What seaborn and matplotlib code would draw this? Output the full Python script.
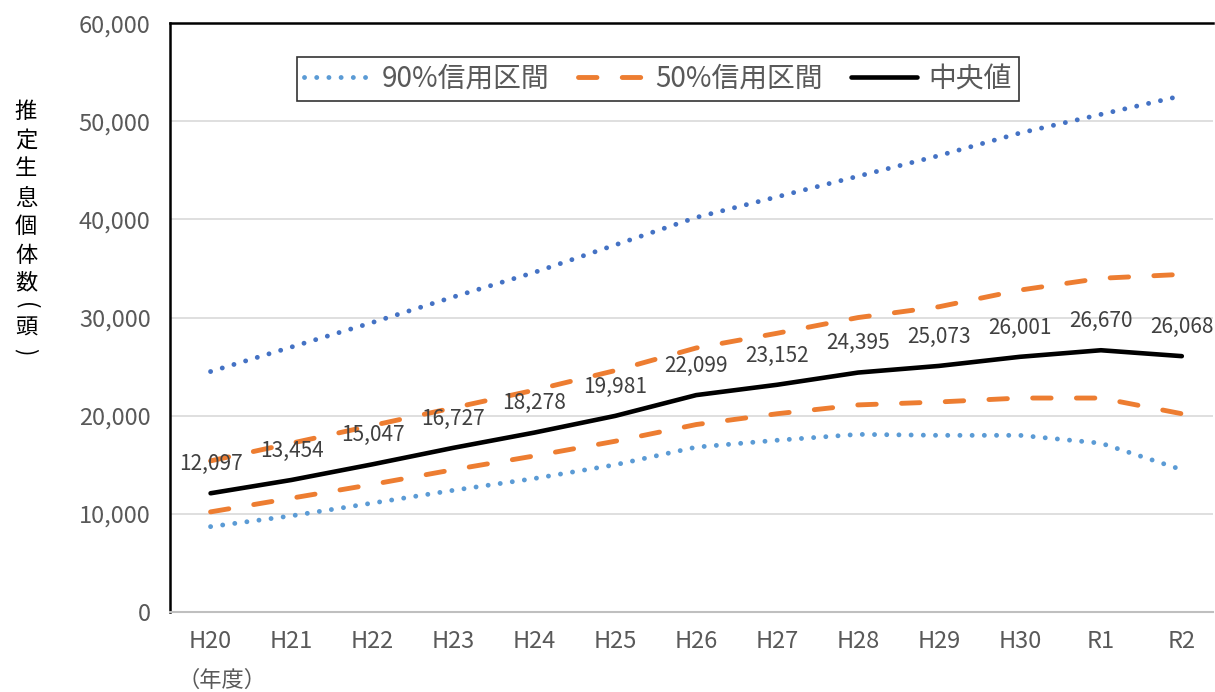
import numpy as np
import pandas as pd
import matplotlib
matplotlib.use("Agg")
import matplotlib.pyplot as plt
from matplotlib.lines import Line2D
import seaborn as sns

# ---------------- データ ---------------- #

years = ["H20", "H21", "H22", "H23", "H24", "H25", "H26",
         "H27", "H28", "H29", "H30", "R1", "R2"]

median = [12097, 13454, 15047, 16727, 18278, 19981, 22099,
          23152, 24395, 25073, 26001, 26670, 26068]

upper90 = [24500, 27000, 29500, 32100, 34600, 37400, 40200,
           42300, 44400, 46500, 48800, 50700, 52600]
lower90 = [8700, 9800, 11100, 12400, 13600, 15000, 16800,
           17500, 18100, 18000, 18000, 17200, 14500]

upper50 = [15400, 17200, 19000, 20800, 22600, 24600, 26900,
           28400, 30000, 31100, 32800, 34000, 34400]
lower50 = [10200, 11600, 13000, 14500, 15900, 17400, 19100,
           20200, 21100, 21400, 21800, 21800, 20200]

BLUE_DARK = "#4472C4"
BLUE = "#5B9BD5"
ORANGE = "#ED7D31"
GRAY = "#595959"

# ---------------- 描画 ---------------- #

sns.set_theme(style="white")
plt.rcParams['font.family'] = ['Noto Sans CJK JP', 'DejaVu Sans']

fig = plt.figure(figsize=(12.15, 6.92), dpi=100)
ax = fig.add_axes([0.14, 0.1156, 0.858, 0.851])

idx = np.arange(len(years))
df = pd.DataFrame({"idx": idx, "median": median,
                   "upper90": upper90, "lower90": lower90,
                   "upper50": upper50, "lower50": lower50})

LW = 3.5
dot = (0, (0.01, 2.5))
dash = (0, (3.8, 5.2))

sns.lineplot(data=df, x="idx", y="upper90", ax=ax, color=BLUE_DARK,
             lw=LW, linestyle=dot, dash_capstyle="round")
sns.lineplot(data=df, x="idx", y="lower90", ax=ax, color=BLUE,
             lw=LW, linestyle=dot, dash_capstyle="round")
sns.lineplot(data=df, x="idx", y="upper50", ax=ax, color=ORANGE,
             lw=LW, linestyle=dash, dash_capstyle="round")
sns.lineplot(data=df, x="idx", y="lower50", ax=ax, color=ORANGE,
             lw=LW, linestyle=dash, dash_capstyle="round")
sns.lineplot(data=df, x="idx", y="median", ax=ax, color="black",
             lw=3.3, solid_capstyle="round")

for i, v in zip(idx, median):
    ax.annotate(f"{v:,}", (i, v), xytext=(0, 21), textcoords="offset points",
                ha="center", va="center", fontsize=15, color="#404040")

ax.set_xlim(-0.5, 12.38)
ax.set_ylim(0, 60000)
ax.set_yticks(np.arange(0, 60001, 10000))
ax.set_yticklabels([f"{t:,}" for t in range(0, 60001, 10000)])
ax.set_xticks(idx)
ax.set_xticklabels(years)
ax.tick_params(axis="both", labelsize=17, labelcolor=GRAY, length=0)
ax.tick_params(axis="y", pad=14)
ax.tick_params(axis="x", pad=13)

ax.grid(axis="y", color="#D9D9D9", lw=1.2)
ax.set_axisbelow(True)
ax.set_xlabel("")
ax.set_ylabel("")

ax.spines["right"].set_visible(False)
for s in ["left", "top"]:
    ax.spines[s].set_color("black")
    ax.spines[s].set_linewidth(1.8)
ax.spines["bottom"].set_color("#BFBFBF")
ax.spines["bottom"].set_linewidth(1.5)

# 縦書きの軸ラベル（括弧は90度回転）
ylab_chars = ["推", "定", "生", "息", "個", "体", "数", "(", "頭", ")"]
ylab_y = [111, 140, 168, 198, 226, 255, 283, 306, 328, 352]
for ch, py in zip(ylab_chars, ylab_y):
    rot = 270 if ch in "()" else 0
    fig.text(26 / 1215, 1 - py / 692, ch, ha="center", va="center",
             fontsize=16, color="black", rotation=rot)

fig.text(0.183, 0.0, "（年度）", ha="center", va="bottom",
         fontsize=16, color=GRAY)

handles = [
    Line2D([], [], color=BLUE, lw=LW, linestyle=dot, dash_capstyle="round"),
    Line2D([], [], color=ORANGE, lw=LW, linestyle=dash, dash_capstyle="round"),
    Line2D([], [], color="black", lw=3.3),
]
leg = ax.legend(handles, ["90%信用区間", "50%信用区間", "中央値"],
                loc="center", bbox_to_anchor=(0.468, 0.905), ncol=3,
                fontsize=20, frameon=True, fancybox=False, handlelength=2.4,
                columnspacing=1.0, handletextpad=0.4, borderpad=0.25)
leg.get_frame().set_edgecolor("black")
leg.get_frame().set_linewidth(1.2)
for t in leg.get_texts():
    t.set_color(GRAY)

fig.savefig("out.png", dpi=100)
